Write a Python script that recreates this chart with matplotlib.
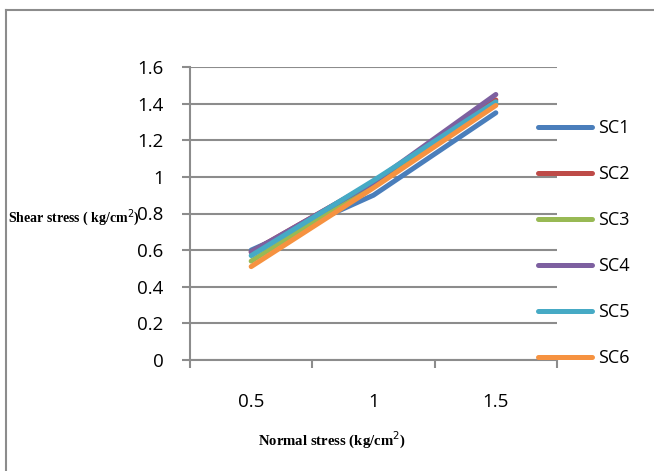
import matplotlib
matplotlib.use("Agg")
import matplotlib.pyplot as plt
from matplotlib.lines import Line2D

normal = ["0.5", "1", "1.5"]
series = ["SC1", "SC2", "SC3", "SC4", "SC5", "SC6"]
sc1 = [0.60, 0.90, 1.35]
sc2 = [0.59, 0.97, 1.42]
sc3 = [0.54, 0.96, 1.40]
sc4 = [0.59, 0.97, 1.45]
sc5 = [0.57, 0.98, 1.41]
sc6 = [0.51, 0.94, 1.39]
values = [sc1, sc2, sc3, sc4, sc5, sc6]
colors = ["#4A7EBB", "#BE4B48", "#98B954", "#7D60A0", "#46AAC5", "#F69240"]

fig = plt.figure(figsize=(6.54, 4.71), dpi=100)
ax = fig.add_axes([190 / 654, 111 / 471, 367 / 654, 293 / 471])

xs = [i + 0.5 for i in range(len(normal))]
for vals, c in zip(values, colors):
    ax.plot(xs, vals, color=c, lw=3.6, solid_capstyle="round")

grid_c = "#8c8c8c"
ax.set_xlim(0, 3)
ax.set_ylim(0, 1.6)
ax.set_yticks([0, 0.2, 0.4, 0.6, 0.8, 1.0, 1.2, 1.4, 1.6])
ax.set_yticklabels(["0", "0.2", "0.4", "0.6", "0.8", "1", "1.2", "1.4", "1.6"])
ax.set_xticks(xs)
ax.set_xticklabels(normal)
ax.set_xticks([0, 1, 2, 3], minor=True)
ax.tick_params(axis="x", which="major", length=0, pad=24)
ax.tick_params(axis="x", which="minor", length=6, width=1.5, color=grid_c)
ax.tick_params(axis="y", length=6, width=1.5, color=grid_c, pad=13)
for lab in ax.get_xticklabels() + ax.get_yticklabels():
    lab.set_fontsize(13.5)
    lab.set_family("Open Sans")
ax.grid(axis="y", color=grid_c, lw=1.5)
ax.set_axisbelow(True)
for s in ["top", "right"]:
    ax.spines[s].set_visible(False)
for s in ["left", "bottom"]:
    ax.spines[s].set_color(grid_c)
    ax.spines[s].set_linewidth(1.5)

handles = [Line2D([], [], color=c, lw=3.6, solid_capstyle="round") for c in colors]
leg = fig.legend(handles, series, loc="upper left", bbox_to_anchor=(522 / 654, 1 - 103 / 471),
                 frameon=False, handlelength=3.0, labelspacing=1.55, handletextpad=0.3,
                 prop={"family": "Open Sans", "size": 13})

fig.text(8 / 654, 1 - 218 / 471, "Shear stress ( kg/cm$^{2}$)", family="Liberation Serif",
         weight="bold", fontsize=10, va="center", ha="left")
fig.text(332 / 654, 1 - 440 / 471, "Normal stress (kg/cm$^{2}$)", family="Liberation Serif",
         weight="bold", fontsize=10.6, va="center", ha="center")

# chart border (left and top)
fig.add_artist(Line2D([6 / 654, 6 / 654], [0, 1 - 10 / 471], color=grid_c, lw=1.5))
fig.add_artist(Line2D([6 / 654, 1], [1 - 10 / 471, 1 - 10 / 471], color=grid_c, lw=1.5))

fig.savefig("out.png", dpi=100)
